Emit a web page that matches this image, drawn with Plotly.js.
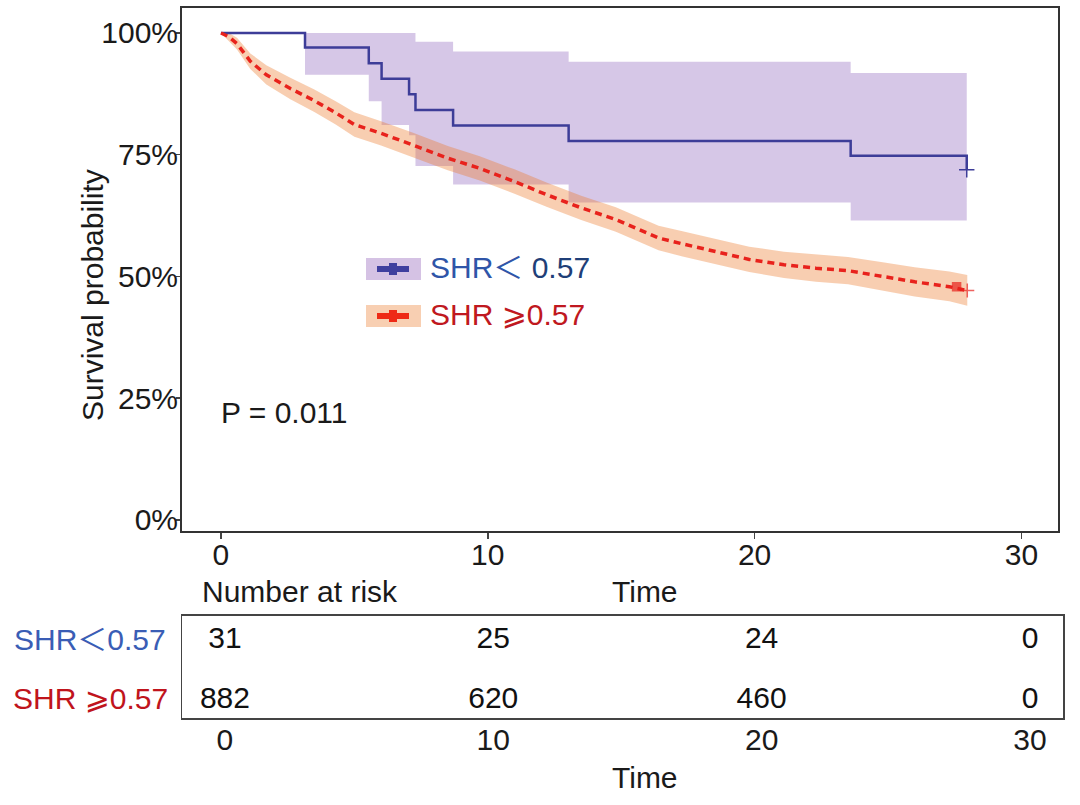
<!DOCTYPE html>
<html>
<head>
<meta charset="utf-8">
<script src="https://cdn.plot.ly/plotly-3.0.1.min.js"></script>
<style>html,body{margin:0;padding:0;background:#fff;}#chart{width:1080px;height:805px;}</style>
</head>
<body>
<div id="chart"></div>
<script>
// ---- data ----
var groupNames = ["SHR＜0.57", "SHR ⩾0.57"];

// SHR < 0.57 (step curve)
var lowTime  = [0, 3.15, 5.54, 6.02, 7.05, 7.29, 8.7, 13.03, 23.6, 27.95];
var lowSurv  = [1.0, 0.970, 0.938, 0.906, 0.874, 0.842, 0.810, 0.778, 0.748, 0.719];
var lowUpper = [1.0, 1.0, 1.0, 1.0, 1.0, 0.982, 0.962, 0.941, 0.918, 0.918];
var lowLower = [1.0, 0.914, 0.860, 0.811, 0.790, 0.727, 0.689, 0.652, 0.615, 0.615];
var lowCensorTime = [27.95];
var lowCensorSurv = [0.719];

// SHR >= 0.57
var highTime  = [0, 0.3, 0.6, 1.1, 1.7, 2.6, 3.5, 4.3, 5.0, 6.0, 7.2, 8.5, 9.7, 11.0, 12.2, 13.5, 14.8, 15.7, 16.4, 17.3, 18.6, 19.8, 21.1, 22.3, 23.5, 24.8, 26.0, 27.3, 27.97];
var highSurv  = [1.0, 0.992, 0.978, 0.942, 0.914, 0.886, 0.861, 0.836, 0.812, 0.794, 0.770, 0.743, 0.722, 0.695, 0.668, 0.641, 0.617, 0.596, 0.579, 0.567, 0.551, 0.535, 0.524, 0.517, 0.512, 0.500, 0.489, 0.479, 0.471];
var highUpper = [1.0, 1.0, 0.990, 0.958, 0.934, 0.908, 0.884, 0.860, 0.837, 0.819, 0.795, 0.768, 0.747, 0.720, 0.693, 0.666, 0.642, 0.621, 0.604, 0.593, 0.577, 0.561, 0.551, 0.545, 0.540, 0.529, 0.519, 0.510, 0.503];
var highLower = [1.0, 0.984, 0.966, 0.926, 0.894, 0.864, 0.838, 0.812, 0.787, 0.769, 0.745, 0.718, 0.697, 0.670, 0.643, 0.616, 0.592, 0.571, 0.554, 0.541, 0.525, 0.509, 0.497, 0.489, 0.484, 0.471, 0.459, 0.449, 0.440];
var highCensorTime = [27.57, 27.97];
var highCensorSurv = [0.479, 0.471];
var highCensorSymbol = ["square", "cross-thin"];

// risk table
var riskTimes = [0, 10, 20, 30];
var riskLow   = [31, 25, 24, 0];
var riskHigh  = [882, 620, 460, 0];

var yTickVals = [0, 0.25, 0.5, 0.75, 1];
var yTickText = ["0%", "25%", "50%", "75%", "100%"];
var xTickVals = [0, 10, 20, 30];

var pValueText = "P = 0.011";

// ---- styling ----
var FONT = "'Liberation Sans', Arial, 'Noto Sans CJK SC', 'DejaVu Sans', sans-serif";
var W = 1080, H = 805;
function px(x){ return x / W; }
function py(y){ return 1 - y / H; }

var blueLine = "#3d3d98";
var redLine = "#e8221c";
var purpleBand = "rgba(120,70,175,0.30)";
var orangeBand = "rgba(235,120,40,0.36)";

var traces = [
  {x: lowTime, y: lowLower, type: "scatter", mode: "lines", line: {width: 0, shape: "hv"}, hoverinfo: "skip", showlegend: false},
  {x: lowTime, y: lowUpper, type: "scatter", mode: "lines", line: {width: 0, shape: "hv"}, fill: "tonexty", fillcolor: purpleBand, hoverinfo: "skip", showlegend: false},
  {x: highTime, y: highLower, type: "scatter", mode: "lines", line: {width: 0}, hoverinfo: "skip", showlegend: false},
  {x: highTime, y: highUpper, type: "scatter", mode: "lines", line: {width: 0}, fill: "tonexty", fillcolor: orangeBand, hoverinfo: "skip", showlegend: false},
  {x: lowTime, y: lowSurv, type: "scatter", mode: "lines", name: groupNames[0], line: {color: blueLine, width: 2.5, shape: "hv"}, showlegend: false},
  {x: highTime, y: highSurv, type: "scatter", mode: "lines", name: groupNames[1], line: {color: redLine, width: 3.5, dash: "7px,5px"}, showlegend: false},
  {x: lowCensorTime, y: lowCensorSurv, type: "scatter", mode: "markers", marker: {symbol: "cross-thin", size: 11, line: {color: blueLine, width: 1.5}}, showlegend: false},
  {x: highCensorTime, y: highCensorSurv, type: "scatter", mode: "markers", marker: {symbol: highCensorSymbol, size: [8, 10], color: redLine, line: {color: redLine, width: 1.5}}, showlegend: false},
  {x: riskTimes, y: riskTimes.map(function(){return 2;}), xaxis: "x2", yaxis: "y2", type: "scatter", mode: "text", text: riskLow.map(String), textfont: {family: FONT, size: 30, color: "#111"}, hoverinfo: "skip", showlegend: false},
  {x: riskTimes, y: riskTimes.map(function(){return 1;}), xaxis: "x2", yaxis: "y2", type: "scatter", mode: "text", text: riskHigh.map(String), textfont: {family: FONT, size: 30, color: "#111"}, hoverinfo: "skip", showlegend: false}
];

// legend keys (layout decoration)
function keyShapes(yc, band, line) {
  return [
    {type: "rect", xref: "paper", yref: "paper", x0: px(366), x1: px(421), y0: py(yc + 11), y1: py(yc - 11), fillcolor: band, line: {width: 0}},
    {type: "line", xref: "paper", yref: "paper", x0: px(377), x1: px(409), y0: py(yc), y1: py(yc), line: {color: line, width: 6}},
    {type: "rect", xref: "paper", yref: "paper", x0: px(389), x1: px(397), y0: py(yc + 6), y1: py(yc - 6), fillcolor: line, line: {width: 0}}
  ];
}
var shapes = [].concat(keyShapes(269, "rgb(213,194,228)", "#3f3f9f"), keyShapes(316, "rgb(248,207,178)", "#ee2a16"));

var annFont = {family: FONT, size: 30, color: "#1a1a1a"};
function ann(text, x, y, opts) {
  var a = {text: text, xref: "paper", yref: "paper", x: px(x), y: py(y), xanchor: "center", yanchor: "middle", showarrow: false, font: annFont};
  for (var k in (opts || {})) a[k] = opts[k];
  return a;
}
var annotations = [
  ann("Survival probability", 92, 295, {textangle: -90}),
  ann(pValueText, 219, 412, {xanchor: "left"}),
  ann("<span style='color:#2f55a8'>SHR＜</span><span style='color:#1f3f78'> 0.57</span>", 428, 268, {xanchor: "left", font: {family: FONT, size: 30}}),
  ann("<span style='color:#c01820'>SHR ⩾0.57</span>", 428, 315, {xanchor: "left", font: {family: FONT, size: 30}}),
  ann("Number at risk", 300, 591),
  ann("Time", 645, 591),
  ann("Time", 645, 777),
  ann(groupNames[0], 168, 639, {xanchor: "right", font: {family: FONT, size: 30, color: "#3a5db5"}}),
  ann(groupNames[1], 170, 698, {xanchor: "right", font: {family: FONT, size: 30, color: "#c0141c"}})
];

var tickFont = {family: FONT, size: 30, color: "#1a1a1a"};
var layout = {
  width: W, height: H,
  margin: {l: 0, r: 0, t: 0, b: 0},
  paper_bgcolor: "#fff", plot_bgcolor: "#fff",
  font: {family: FONT, size: 30, color: "#1a1a1a"},
  showlegend: false,
  xaxis: {
    domain: [px(182), px(1058)], range: [-1.46, 31.37], anchor: "y",
    tickvals: xTickVals, ticks: "outside", ticklen: 6, tickwidth: 1.5, tickcolor: "#444",
    ticklabelstandoff: -10,
    showline: true, mirror: true, linecolor: "#333", linewidth: 2,
    showgrid: false, zeroline: false, tickfont: tickFont
  },
  yaxis: {
    domain: [py(531), py(8)], range: [-0.0226, 1.0513], anchor: "x",
    tickvals: yTickVals, ticktext: yTickText, ticks: "outside", ticklen: 4, tickwidth: 1.5, tickcolor: "#444",
    ticklabelstandoff: -8,
    showline: true, mirror: true, linecolor: "#333", linewidth: 2,
    showgrid: false, zeroline: false, tickfont: tickFont
  },
  xaxis2: {
    domain: [px(182), px(1063)], range: [-1.60, 31.23], anchor: "y2",
    tickvals: xTickVals, ticks: "outside", ticklen: 6, tickcolor: "rgba(0,0,0,0)",
    ticklabelstandoff: -12,
    showline: true, mirror: true, linecolor: "#444", linewidth: 1.5,
    showgrid: false, zeroline: false, tickfont: tickFont
  },
  yaxis2: {
    domain: [py(718), py(615.5)], range: [0.7, 2.41], anchor: "x2",
    showticklabels: false, ticks: "",
    showline: true, mirror: true, linecolor: "#444", linewidth: 1.5,
    showgrid: false, zeroline: false
  },
  shapes: shapes,
  annotations: annotations
};

Plotly.newPlot("chart", traces, layout, {staticPlot: true, displayModeBar: false});
</script>
</body>
</html>
